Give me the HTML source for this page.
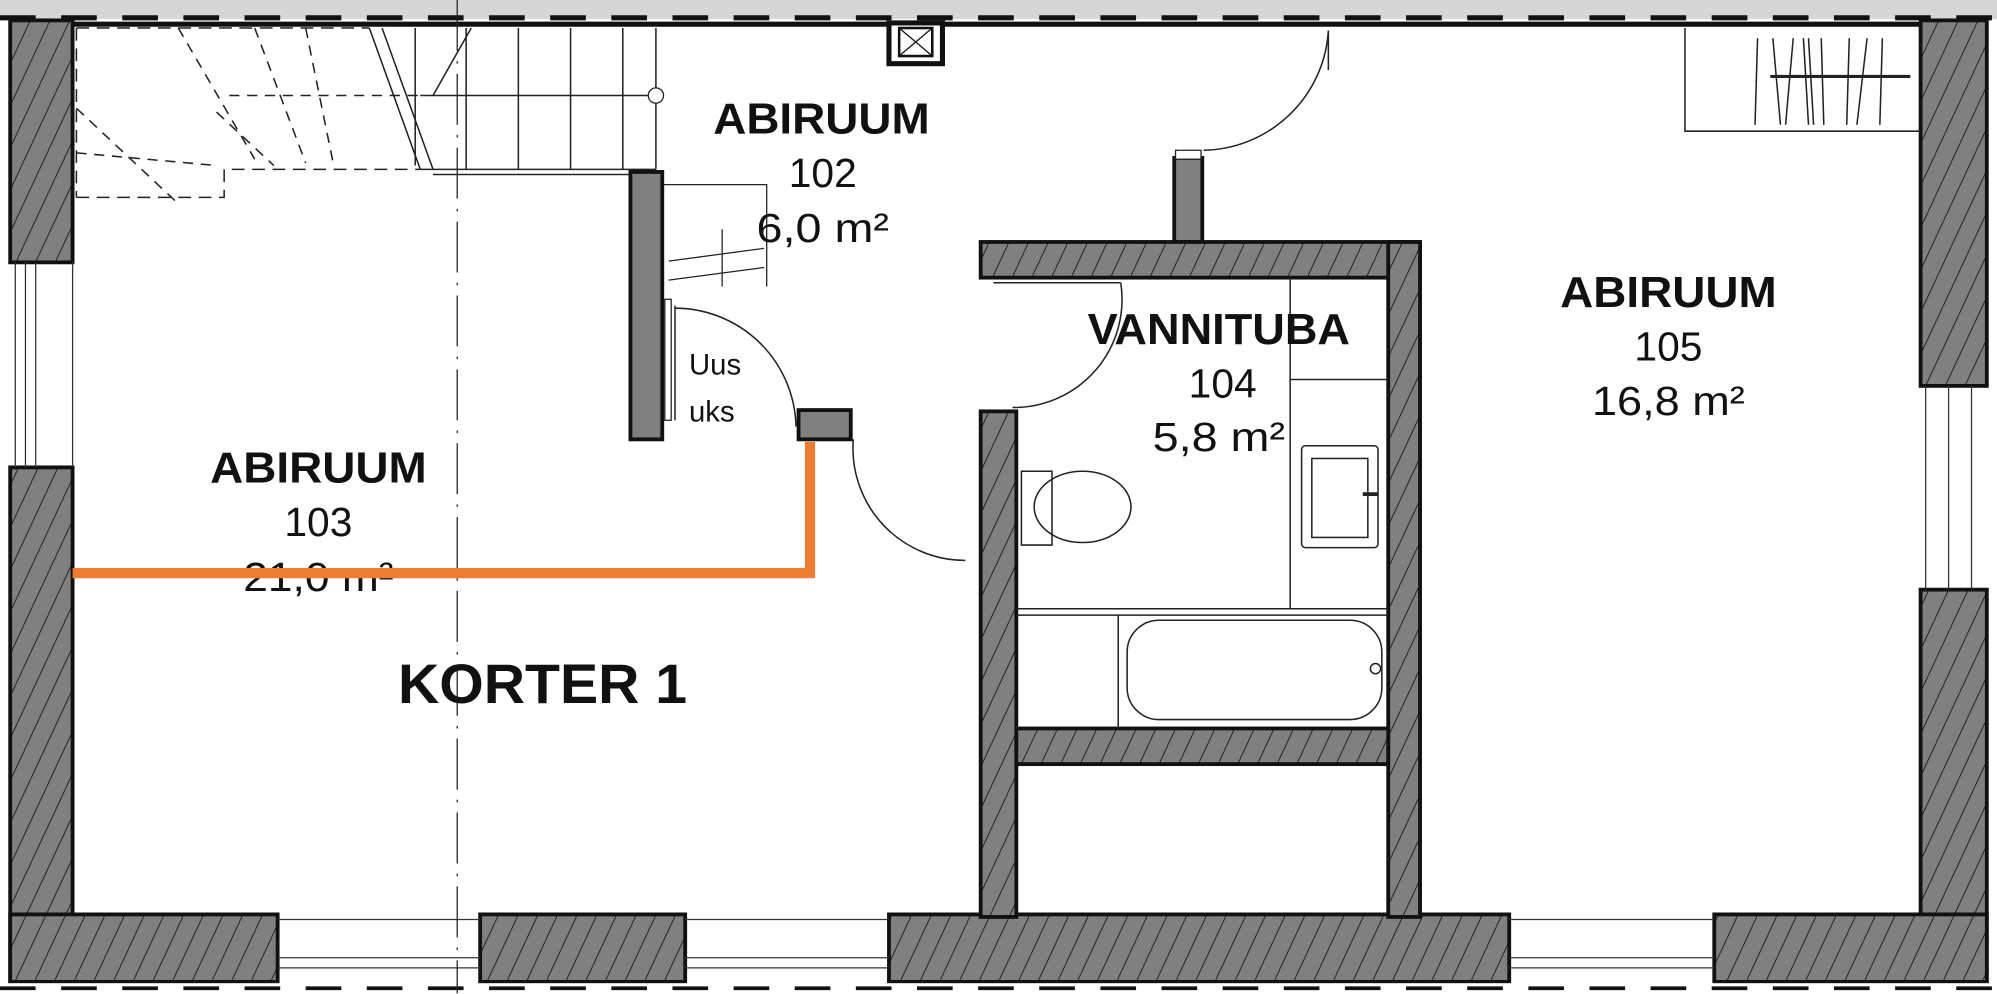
<!DOCTYPE html>
<html><head><meta charset="utf-8"><style>
html,body{margin:0;padding:0;background:#fff;}
svg{display:block;}
text{font-family:"Liberation Sans",Arial,sans-serif;}
</style></head><body>
<svg width="1997" height="994" viewBox="0 0 1568 780.5" preserveAspectRatio="none" xmlns="http://www.w3.org/2000/svg">
<defs>
<pattern id="h" width="14" height="14" patternUnits="userSpaceOnUse" patternTransform="rotate(25)">
<rect width="14" height="14" fill="#808080"/>
<line x1="0" y1="0" x2="0" y2="14" stroke="#111" stroke-width="1.3"/>
</pattern>
</defs>
<rect width="1568" height="781" fill="#fff"/>
<rect x="0" y="0" width="1568" height="15" fill="#d6d6d6"/>
<line x1="0" y1="14" x2="1568" y2="14" stroke="#111" stroke-width="4" stroke-dasharray="28,20"/>
<line x1="55" y1="19" x2="1510" y2="19" stroke="#111" stroke-width="4"/>
<rect x="8" y="16" width="49" height="190" fill="url(#h)" stroke="#111" stroke-width="3"/>
<rect x="8" y="367" width="49" height="404" fill="url(#h)" stroke="#111" stroke-width="3"/>
<line x1="12" y1="206" x2="12" y2="367" stroke="#333" stroke-width="1"/>
<line x1="20" y1="206" x2="20" y2="367" stroke="#333" stroke-width="1"/>
<line x1="28" y1="206" x2="28" y2="367" stroke="#333" stroke-width="1"/>
<line x1="57" y1="206" x2="57" y2="367" stroke="#333" stroke-width="1"/>
<rect x="1508" y="16" width="52" height="287" fill="url(#h)" stroke="#111" stroke-width="3"/>
<rect x="1508" y="463" width="52" height="308" fill="url(#h)" stroke="#111" stroke-width="3"/>
<line x1="1512" y1="303" x2="1512" y2="463" stroke="#333"/><line x1="1530" y1="303" x2="1530" y2="463" stroke="#333"/><line x1="1548" y1="303" x2="1548" y2="463" stroke="#333"/>
<rect x="8" y="718" width="210" height="53" fill="url(#h)" stroke="#111" stroke-width="3"/>
<rect x="377" y="718" width="161" height="53" fill="url(#h)" stroke="#111" stroke-width="3"/>
<rect x="698" y="718" width="487" height="53" fill="url(#h)" stroke="#111" stroke-width="3"/>
<rect x="1346" y="718" width="214" height="53" fill="url(#h)" stroke="#111" stroke-width="3"/>
<g stroke="#333" stroke-width="1">
<line x1="218" y1="722" x2="377" y2="722"/><line x1="218" y1="752" x2="377" y2="752"/><line x1="218" y1="760" x2="377" y2="760"/>
<line x1="538" y1="722" x2="698" y2="722"/><line x1="538" y1="752" x2="698" y2="752"/><line x1="538" y1="760" x2="698" y2="760"/>
<line x1="1185" y1="722" x2="1346" y2="722"/><line x1="1185" y1="752" x2="1346" y2="752"/><line x1="1185" y1="760" x2="1346" y2="760"/>
</g>
<rect x="0" y="772" width="1568" height="9" fill="#fff"/>
<line x1="0" y1="776" x2="1568" y2="776" stroke="#111" stroke-width="3" stroke-dasharray="28,20"/>
<line x1="359" y1="0" x2="359" y2="780" stroke="#222" stroke-width="1" stroke-dasharray="40,8,2,8"/>
<g fill="none" stroke="#222" stroke-width="1.2">
<path d="M60 155 H176 V133 H330" stroke-dasharray="10,6"/>
<path d="M60 22 V155" stroke-dasharray="10,6"/>
<path d="M60 22 H290" stroke-dasharray="10,6"/>
<line x1="290" y1="22" x2="330" y2="133"/>
<line x1="300" y1="22" x2="340" y2="133"/>
<line x1="330" y1="133" x2="515" y2="133"/>
<line x1="340" y1="137" x2="515" y2="137"/>
<line x1="515" y1="22" x2="515" y2="133"/>
<line x1="330" y1="75" x2="515" y2="75"/>
<line x1="366" y1="22" x2="366" y2="133"/><line x1="407" y1="22" x2="407" y2="133"/><line x1="448" y1="22" x2="448" y2="133"/><line x1="489" y1="22" x2="489" y2="133"/>
<line x1="326" y1="22" x2="326" y2="130"/>
<line x1="370" y1="22" x2="340" y2="75" />
<g stroke-dasharray="8,6">
<line x1="140" y1="22" x2="200" y2="125"/><line x1="200" y1="22" x2="240" y2="128"/><line x1="240" y1="22" x2="262" y2="130"/>
<line x1="60" y1="85" x2="140" y2="160"/><line x1="60" y1="120" x2="170" y2="130"/><line x1="180" y1="75" x2="330" y2="75"/>
<line x1="170" y1="88" x2="215" y2="130"/>
</g>
</g>
<circle cx="515" cy="75" r="6" fill="#fff" stroke="#222"/>
<g stroke="#222" stroke-width="1" fill="none">
<path d="M520 145 H602 V225"/>
<line x1="525" y1="205" x2="600" y2="195"/><line x1="525" y1="220" x2="600" y2="210"/>
<line x1="567" y1="180" x2="567" y2="225"/>
</g>
<rect x="495" y="135" width="25" height="210" fill="#808080" stroke="#111" stroke-width="3"/>
<rect x="522" y="235" width="5" height="95" fill="#fff" stroke="#222"/>
<rect x="627" y="322" width="41" height="23" fill="#808080" stroke="#111" stroke-width="3"/>
<rect x="698" y="18" width="42" height="32" fill="#fff" stroke="#111" stroke-width="4"/>
<rect x="706" y="22" width="26" height="22" fill="#fff" stroke="#111" stroke-width="2"/>
<line x1="706" y1="22" x2="732" y2="44" stroke="#111"/><line x1="732" y1="22" x2="706" y2="44" stroke="#111"/>
<g fill="none" stroke="#222" stroke-width="1.2">
<path d="M530 242 A95 95 0 0 1 625 335"/>
<line x1="530" y1="240" x2="530" y2="330"/>
<path d="M670 345 A88 88 0 0 0 758 440"/>
<path d="M945 118 A100 100 0 0 0 1043 24"/>
<line x1="1043" y1="24" x2="1043" y2="55"/>
<path d="M795 320 A85 85 0 0 0 880 222"/>
<line x1="880" y1="222" x2="780" y2="222"/>
</g>
<rect x="922" y="124" width="22" height="66" fill="#808080" stroke="#111" stroke-width="3"/>
<rect x="923" y="118" width="20" height="7" fill="#fff" stroke="#222"/>
<rect x="770" y="190" width="345" height="28" fill="url(#h)" stroke="#111" stroke-width="3"/>
<rect x="1090" y="190" width="25" height="530" fill="url(#h)" stroke="#111" stroke-width="3"/>
<rect x="770" y="323" width="28" height="397" fill="url(#h)" stroke="#111" stroke-width="3"/>
<rect x="798" y="572" width="292" height="28" fill="url(#h)" stroke="#111" stroke-width="3"/>
<rect x="1092" y="192" width="21" height="24" fill="url(#h)"/>
<g fill="none" stroke="#222" stroke-width="1.2">
<line x1="1013" y1="218" x2="1013" y2="478"/>
<line x1="1013" y1="298" x2="1090" y2="298"/>
<rect x="1022" y="350" width="60" height="80" rx="3"/>
<rect x="1030" y="360" width="44" height="62"/>
<line x1="1070" y1="388" x2="1082" y2="388" stroke-width="3"/>
<path d="M802 370 h24 v58 h-24 z"/>
<ellipse cx="850" cy="398" rx="38" ry="28"/>
<line x1="798" y1="478" x2="1090" y2="478"/><line x1="798" y1="483" x2="1090" y2="483"/>
<line x1="878" y1="483" x2="878" y2="572"/>
<rect x="885" y="487" width="200" height="78" rx="25"/>
<circle cx="1080" cy="525" r="4"/>
</g>
<g fill="none" stroke="#222" stroke-width="1.2">
<path d="M1323 22 V103 H1508"/>
<line x1="1390" y1="60" x2="1500" y2="60" stroke-width="2.5"/>
<line x1="1380" y1="30" x2="1378" y2="98"/><line x1="1392" y1="30" x2="1398" y2="98"/>
<line x1="1408" y1="30" x2="1402" y2="98"/><line x1="1416" y1="30" x2="1420" y2="98"/><line x1="1420" y1="30" x2="1424" y2="98"/>
<line x1="1430" y1="30" x2="1432" y2="98"/><line x1="1452" y1="30" x2="1450" y2="98"/><line x1="1466" y1="30" x2="1458" y2="98"/><line x1="1478" y1="30" x2="1476" y2="98"/>
</g>
<g text-anchor="middle" fill="#111">
<text x="645" y="105" font-size="34" font-weight="bold" textLength="170" lengthAdjust="spacingAndGlyphs">ABIRUUM</text>
<text x="646" y="147" font-size="32">102</text>
<text x="646" y="190" font-size="32" textLength="104" lengthAdjust="spacingAndGlyphs">6,0 m²</text>
<text x="250" y="379" font-size="34" font-weight="bold" textLength="170" lengthAdjust="spacingAndGlyphs">ABIRUUM</text>
<text x="250" y="421" font-size="32">103</text>
<text x="250" y="464" font-size="32" textLength="118" lengthAdjust="spacingAndGlyphs">21,0 m²</text>
<text x="426" y="552" font-size="44" font-weight="bold" textLength="227" lengthAdjust="spacingAndGlyphs">KORTER 1</text>
<text x="957" y="270" font-size="34" font-weight="bold" textLength="206" lengthAdjust="spacingAndGlyphs">VANNITUBA</text>
<text x="960" y="312" font-size="32">104</text>
<text x="957" y="354" font-size="32" textLength="104" lengthAdjust="spacingAndGlyphs">5,8 m²</text>
<text x="1310" y="241" font-size="34" font-weight="bold" textLength="170" lengthAdjust="spacingAndGlyphs">ABIRUUM</text>
<text x="1310" y="283" font-size="32">105</text>
<text x="1310" y="326" font-size="32" textLength="120" lengthAdjust="spacingAndGlyphs">16,8 m²</text>
</g>
<text x="541" y="294" font-size="23" fill="#111">Uus</text>
<text x="541" y="331" font-size="23" fill="#111">uks</text>
<polyline points="57,450 636,450 636,347" fill="none" stroke="#ED7D31" stroke-width="8"/>
</svg>
</body></html>
